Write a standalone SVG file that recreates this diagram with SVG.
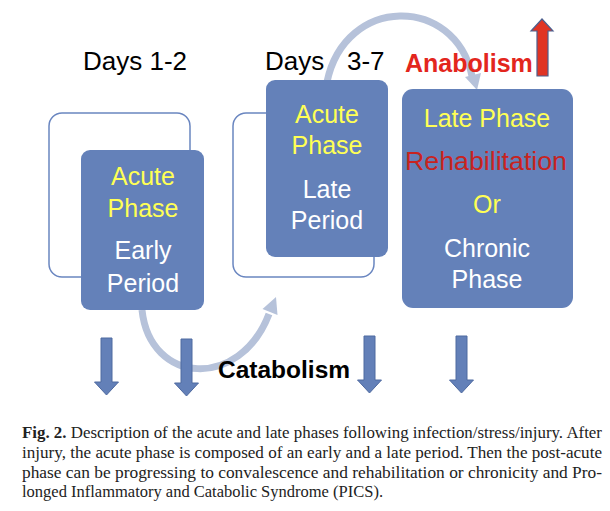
<svg xmlns="http://www.w3.org/2000/svg" width="610" height="511" viewBox="0 0 610 511">
<defs>
<style>
.outline{fill:none;stroke:#6a86c0;stroke-width:1.5}
.box{fill:#6481b9}
.t{font-family:"Liberation Sans",Arial,sans-serif;font-size:25px;text-anchor:middle}
.y{fill:#ffff55}
.w{fill:#ffffff}
.r{fill:#c8231f}
.hdr{font-family:"Liberation Sans",Arial,sans-serif;font-size:26px;fill:#000}
.bold{font-family:"Liberation Sans",Arial,sans-serif;font-weight:bold}
.arc{fill:none;stroke:#b6c2da;stroke-width:7}
.archead{fill:#b6c2da}
.down{fill:#6380b8;stroke:#4f6aa0;stroke-width:1}
.cap{font-family:"Liberation Serif","Times New Roman",serif;font-size:16px;fill:#222}
</style>
<path id="darrow" d="M-5.5 0 H5.5 V44 H12 L0 57 L-12 44 H-5.5 Z"/>
</defs>
<rect width="610" height="511" fill="#fff"/>

<g id="headers">
<text class="hdr" x="83" y="70">Days 1-2</text>
<text class="hdr" x="265" y="70">Days</text>
<text class="hdr" x="347" y="70">3-7</text>
</g>

<g id="outlines">
<rect class="outline" x="49" y="113" width="141" height="164" rx="13"/>
<rect class="outline" x="233" y="113" width="141" height="164" rx="13"/>
</g>

<g id="connectors">
<path class="arc" d="M142 310 C150 385 240 390 269 314"/>
<polygon class="archead" points="277.5,314.9 262.5,309.1 276,297"/>
<path class="arc" d="M327 82 C345 -5 455 -5 472 76"/>
<polygon class="archead" points="481,73 465,77 477,90"/>
</g>

<g id="node-early">
<rect class="box" x="81" y="150" width="123" height="160" rx="9"/>
<text class="t y" x="143" y="185">Acute</text>
<text class="t y" x="143" y="217">Phase</text>
<text class="t w" x="143" y="259">Early</text>
<text class="t w" x="143" y="292">Period</text>
</g>

<g id="node-late">
<rect class="box" x="266" y="80" width="122" height="177" rx="9"/>
<text class="t y" x="327" y="123">Acute</text>
<text class="t y" x="327" y="154">Phase</text>
<text class="t w" x="327" y="198">Late</text>
<text class="t w" x="327" y="229">Period</text>
</g>

<g id="node-chronic">
<rect class="box" x="402" y="89" width="171" height="219" rx="11"/>
<text class="t y" x="487" y="127">Late Phase</text>
<text class="t r" x="486" y="170" textLength="162" lengthAdjust="spacingAndGlyphs">Rehabilitation</text>
<text class="t y" x="487" y="213">Or</text>
<text class="t w" x="487" y="257">Chronic</text>
<text class="t w" x="487" y="288">Phase</text>
</g>

<g id="anabolism">
<text class="bold" x="405" y="72" font-size="25" fill="#e3261d">Anabolism</text>
<polygon points="537,76 548,76 548,31 553,31 542,19 531,31 537,31" fill="#e03424" stroke="#4c5f8e" stroke-width="1.2"/>
</g>

<g id="catabolism">
<use href="#darrow" class="down" transform="translate(106.5,338)"/>
<use href="#darrow" class="down" transform="translate(186.5,339)"/>
<use href="#darrow" class="down" transform="translate(369.5,336)"/>
<use href="#darrow" class="down" transform="translate(461.5,336)"/>
<text class="bold" x="218" y="378" font-size="24.5" fill="#000">Catabolism</text>
</g>

<g id="caption">
<text class="cap" x="22" y="438" textLength="580" lengthAdjust="spacingAndGlyphs"><tspan font-weight="bold">Fig. 2.</tspan> Description of the acute and late phases following infection/stress/injury. After</text>
<text class="cap" x="22" y="458" textLength="580" lengthAdjust="spacingAndGlyphs">injury, the acute phase is composed of an early and a late period. Then the post-acute</text>
<text class="cap" x="22" y="478" textLength="580" lengthAdjust="spacingAndGlyphs">phase can be progressing to convalescence and rehabilitation or chronicity and Pro-</text>
<text class="cap" x="22" y="497" textLength="361" lengthAdjust="spacingAndGlyphs">longed Inflammatory and Catabolic Syndrome (PICS).</text>
</g>
</svg>
